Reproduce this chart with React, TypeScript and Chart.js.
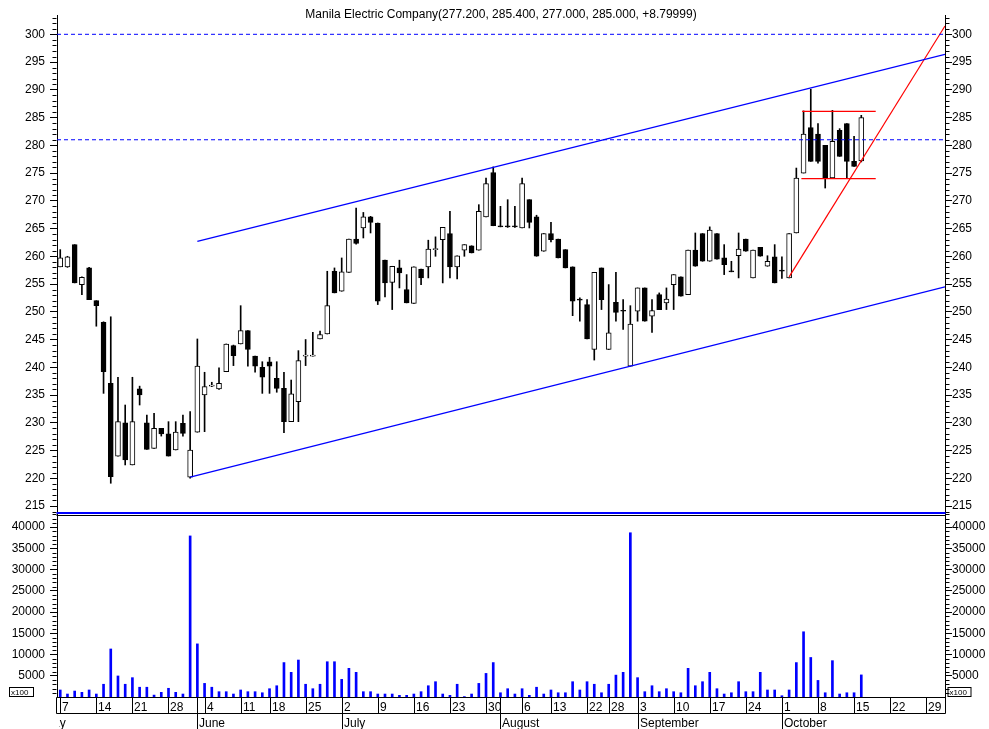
import React, { useEffect, useRef } from 'react';
import { Chart, registerables } from 'chart.js';

Chart.register(...registerables);

const FONT = '"Liberation Sans", Arial, sans-serif';
const TITLE = 'Manila Electric Company(277.200, 285.400, 277.000, 285.000, +8.79999)';

const YEAR = 2012;
const FIRST_MONTH = 4; // May (0-based)
const MONTH_NAMES = ['May', 'June', 'July', 'August', 'September', 'October'];
const TRADING_DAYS = [
  [7, 8, 9, 10, 11, 14, 15, 16, 17, 18, 21, 22, 23, 24, 25, 28, 29, 30, 31],
  [1, 4, 5, 6, 7, 8, 11, 13, 14, 15, 18, 19, 20, 21, 22, 25, 26, 27, 28, 29],
  [2, 3, 4, 5, 6, 9, 10, 11, 12, 13, 16, 17, 18, 19, 20, 23, 24, 25, 26, 27, 30, 31],
  [1, 2, 3, 6, 8, 9, 10, 13, 14, 15, 16, 17, 22, 23, 24, 28, 29, 30, 31],
  [3, 4, 5, 6, 7, 10, 11, 12, 13, 14, 17, 18, 19, 20, 21, 24, 25, 26, 27, 28],
  [1, 2, 3, 4, 5, 8, 9, 10, 11, 12, 15, 16, 17, 18, 19, 22, 23, 24, 25, 26, 29, 30, 31],
];

const OPEN = [258.1,258.1,262.1,254.9,257.9,252.0,248.1,237.1,224.0,230.0,
222.4,236.1,230.0,225.4,229.0,228.0,225.1,229.9,220.2,228.3,
235.0,236.6,236.1,239.2,243.9,244.2,246.6,242.0,240.0,241.0,
238.0,236.2,230.2,233.8,242.0,242.0,245.1,246.0,257.3,253.7,
257.1,263.1,265.1,267.1,266.0,259.3,255.3,257.9,254.0,251.5,
257.7,258.1,261.2,263.0,264.1,258.1,261.1,261.9,261.1,267.1,
275.1,265.5,265.4,265.4,265.1,270.2,267.1,260.9,264.1,263.1,
261.2,258.1,252.3,251.3,243.2,257.9,243.2,251.7,250.2,240.2,
250.1,254.3,249.2,253.1,251.6,254.9,256.3,253.1,261.1,264.1,
259.1,264.1,259.7,257.4,260.1,263.1,256.1,261.6,258.2,259.9,
257.5,256.1,264.2,275.0,283.2,282.0,280.0,274.1,282.7,283.9,
277.1,277.2];
const HIGH = [261.2,260.0,262.1,256.3,258.0,252.0,248.2,249.1,238.2,233.2,
238.2,236.6,231.4,231.7,229.0,230.2,230.2,231.4,232.0,245.1,
239.1,237.3,239.9,244.2,244.0,251.1,246.6,242.0,241.0,241.8,
241.0,239.1,237.7,243.0,245.0,246.3,246.5,257.3,257.9,259.7,
263.1,268.7,267.9,267.2,266.0,259.3,258.2,259.3,256.7,258.1,
257.7,262.9,263.5,265.2,268.1,260.1,262.1,261.9,269.3,274.1,
276.1,269.0,270.2,269.0,274.1,270.2,267.4,264.1,266.1,263.1,
261.2,258.1,252.5,252.2,257.1,257.9,254.9,257.1,252.2,251.1,
254.3,254.3,252.2,253.4,254.3,256.7,256.3,261.1,264.2,264.1,
265.3,264.1,262.1,259.1,264.2,263.1,261.1,261.6,260.1,262.1,
259.9,264.1,275.9,286.2,290.1,283.9,280.0,286.3,283.0,283.9,
281.6,285.4];
const LOW = [258.1,258.0,255.2,253.1,252.2,247.4,235.3,219.1,224.0,222.4,
222.4,233.2,225.2,225.4,227.6,224.0,225.1,227.6,220.0,228.3,
228.4,236.5,236.0,239.2,240.3,244.2,240.2,239.1,235.3,235.3,
235.5,228.2,230.2,230.2,240.3,242.0,245.1,246.0,253.4,253.7,
257.1,262.2,263.3,264.2,251.3,252.7,250.4,254.3,251.6,251.5,
254.9,256.1,260.0,255.2,256.1,255.9,260.0,260.6,261.1,267.1,
265.5,265.3,265.2,265.2,265.1,265.1,260.0,260.9,262.6,259.7,
257.9,249.3,248.3,245.1,241.3,250.4,243.2,248.3,246.8,240.2,
248.3,248.3,246.3,250.4,250.4,250.4,252.8,253.1,258.2,259.1,
259.1,259.5,256.7,257.2,256.1,260.9,256.1,260.0,258.2,255.2,
256.0,256.1,264.2,275.0,277.1,276.8,272.3,274.1,278.0,274.1,
276.2,277.0];
const CLOSE = [259.7,259.9,255.2,256.2,252.2,251.1,239.2,220.3,230.2,223.3,
230.2,235.0,225.2,229.0,228.0,224.0,228.3,228.1,225.1,240.2,
236.5,236.8,237.1,244.2,242.1,246.6,243.2,240.2,238.2,240.2,
236.2,230.2,235.2,241.2,242.2,242.2,245.9,251.1,253.4,257.2,
263.1,262.3,267.1,266.1,251.9,255.2,258.2,257.0,251.6,258.1,
256.1,261.3,261.3,265.2,258.1,260.1,262.1,260.6,268.1,273.1,
265.5,265.3,265.3,265.3,273.1,266.1,260.0,264.1,263.0,259.7,
257.9,251.9,252.1,245.1,257.1,252.2,246.2,249.9,250.1,247.8,
254.3,248.3,250.2,250.4,252.3,256.7,252.8,261.1,258.2,259.1,
264.7,259.5,258.5,257.2,261.3,260.9,261.1,260.0,259.1,255.2,
257.3,264.1,274.1,282.0,277.1,277.1,274.1,280.7,278.0,277.1,
276.2,285.0];
const VOLUME = [1650,700,1400,1100,1650,700,3000,11300,4950,3000,
4550,2300,2300,450,1100,2050,1100,700,37900,12500,
3200,2300,1250,1250,700,1650,1250,1250,1000,1950,
2650,8100,5800,8700,3000,1950,3000,8300,8300,4150,
6750,5800,1250,1250,700,700,700,400,400,700,
1250,2650,3600,700,400,3000,100,700,3200,5550,
8100,1000,1950,700,1950,400,2300,700,1650,1000,
1000,3600,1650,3600,3000,1000,3000,5150,5800,38650,
4550,1250,2650,1250,1950,1250,1000,6750,2650,3600,
5800,1950,700,1000,3600,1250,1250,5800,1650,1650,
300,1650,8100,15350,9300,3900,1000,8550,700,1000,
1000,5200];

const PRICE_TICKS = [215,220,225,230,235,240,245,250,255,260,265,270,275,280,285,290,295,300];
const VOLUME_TICKS = [5000,10000,15000,20000,25000,30000,35000,40000];
const PRICE_MIN = 213.56;
const PRICE_MAX = 303.48;
const VOLUME_MAX = 43060;
const X_MIN = -0.45;
const X_MAX = 122.6;

// trend lines: [index, price]
const UPPER_CHANNEL = [[19, 262.7], [122.6, 296.4]];
const LOWER_CHANNEL = [[18, 220.2], [122.6, 254.5]];
const RED_TREND = [[101, 256.3], [122.6, 301.5]];
const RED_RANGE_TOP = [[102.8, 286.1], [113, 286.1]];
const RED_RANGE_BOTTOM = [[102.7, 274.0], [113, 274.0]];
const DASHED_LEVELS = [300, 281];

const DATES = TRADING_DAYS.flatMap((days, mi) => days.map((d) => new Date(YEAR, FIRST_MONTH + mi, d)));
const IDX = OPEN.map((_, i) => i);

const toPts = (arr: number[][]) => arr.map(([x, y]) => ({ x, y }));

const decorPlugin = {
  id: 'decor',
  afterDraw(chart: any) {
    const { ctx, chartArea: a, scales } = chart;
    const xs = scales.x, yp = scales.y, yv = scales.yv;
    ctx.save();
    const hline = (x1: number, x2: number, y: number) => { ctx.beginPath(); ctx.moveTo(x1, y); ctx.lineTo(x2, y); ctx.stroke(); };
    const vline = (x: number, y1: number, y2: number) => { ctx.beginPath(); ctx.moveTo(x, y1); ctx.lineTo(x, y2); ctx.stroke(); };
    const L = Math.round(a.left) - 0.5, R = Math.round(a.right) + 0.5;
    ctx.strokeStyle = '#000';
    ctx.lineWidth = 1;
    // minor ticks price
    for (let v = Math.ceil(PRICE_MIN); v <= PRICE_MAX; v++) {
      if (PRICE_TICKS.includes(v)) continue;
      const y = Math.round(yp.getPixelForValue(v)) + 0.5;
      hline(L - 4, L, y); hline(R, R + 4, y);
    }
    for (let v = 1000; v <= VOLUME_MAX; v += 1000) {
      if (VOLUME_TICKS.includes(v)) continue;
      const y = Math.round(yv.getPixelForValue(v)) + 0.5;
      hline(L - 4, L, y); hline(R, R + 4, y);
    }
    // panel separator
    const sep = Math.round(yp.bottom);
    ctx.strokeStyle = '#0000ff'; ctx.lineWidth = 2;
    hline(L, R, sep - 1);
    ctx.strokeStyle = '#000'; ctx.lineWidth = 1;
    hline(L, R, sep + 1.5);
    // date axis
    const r0 = Math.round(a.bottom) + 0.5, r1 = r0 + 16, r2 = r0 + 32;
    hline(L, R, r0); hline(L, R, r1);
    vline(L, r0, r1); vline(R, r0, r1);
    ctx.fillStyle = '#000';
    ctx.font = '12px ' + FONT;
    ctx.textBaseline = 'alphabetic';
    ctx.textAlign = 'left';
    for (let i = 0; i < DATES.length; i++) {
      const d = DATES[i];
      const prev = DATES[i - 1];
      const x = Math.round(xs.getPixelForValue(i)) + 0.5;
      const newWeek = !prev || d.getDay() <= prev.getDay() || (d.getTime() - prev.getTime()) >= 7 * 864e5;
      const newMonth = prev && d.getMonth() !== prev.getMonth();
      if (newWeek) {
        vline(x, r0, r1);
        ctx.fillText(String(d.getDate()), x + 1.5, r1 - 3);
      }
      if (newMonth) {
        vline(x, r0, r2);
        ctx.fillText(MONTH_NAMES[d.getMonth() - FIRST_MONTH], x + 1.5, r2 - 3);
      }
    }
    // first month label, clipped at the first day
    ctx.save();
    ctx.beginPath();
    const x0 = xs.getPixelForValue(0);
    ctx.rect(x0 - 1, r1, 40, 16);
    ctx.clip();
    ctx.textAlign = 'right';
    ctx.fillText(MONTH_NAMES[0], x0 + 5.5, r2 - 3);
    ctx.restore();
    // x100 boxes
    ctx.font = '8px ' + FONT;
    ctx.textAlign = 'left';
    const by = Math.round(yv.bottom);
    ctx.strokeRect(9.5, by - 9.5, 24, 9);
    ctx.fillText('x100', 11, by - 2);
    ctx.strokeRect(R + 2.5, by - 9.5, 23, 9);
    ctx.fillText('x100', R + 4, by - 2);
    // title
    ctx.font = '12px ' + FONT;
    ctx.textAlign = 'center';
    ctx.textBaseline = 'middle';
    ctx.fillText(TITLE, (a.left + a.right) / 2, 15);
    ctx.restore();
  },
};

const axisCommon = (pos: 'left' | 'right') => ({
  type: 'linear' as const,
  position: pos,
  afterFit: (s: any) => { s.width = pos === 'left' ? 57 : 44; },
  ticks: {
    color: '#000',
    font: { size: 12, family: FONT },
    padding: pos === 'left' ? 5 : 0,
    autoSkip: false,
    callback: (v: any) => String(v),
  },
  grid: { drawOnChartArea: false, drawTicks: true, tickLength: 7, color: '#000' },
  border: { color: '#000' },
});

const priceAxis = (pos: 'left' | 'right', weight: number) => ({
  ...axisCommon(pos),
  stack: pos,
  stackWeight: 499,
  weight,
  min: PRICE_MIN,
  max: PRICE_MAX,
  afterBuildTicks: (s: any) => { s.ticks = PRICE_TICKS.map((v) => ({ value: v })); },
});

const volumeAxis = (pos: 'left' | 'right', weight: number) => ({
  ...axisCommon(pos),
  stack: pos,
  stackWeight: 183,
  weight,
  min: 0,
  max: VOLUME_MAX,
  afterBuildTicks: (s: any) => { s.ticks = VOLUME_TICKS.map((v) => ({ value: v })); },
});

export default function App() {
  const ref = useRef<HTMLCanvasElement>(null);
  useEffect(() => {
    Chart.defaults.font.family = FONT;
    const lineDs = (data: number[][], color: string, width: number, dash: number[] = []) => ({
      type: 'line' as const,
      data: toPts(data),
      borderColor: color,
      borderWidth: width,
      borderDash: dash,
      pointRadius: 0,
      fill: false,
      yAxisID: 'y',
      order: 0,
    });
    const chart = new Chart(ref.current!, {
      type: 'bar',
      data: {
        datasets: [
          ...DASHED_LEVELS.map((lv) => lineDs([[X_MIN, lv], [X_MAX, lv]], '#0000ff', 1, [4, 3])),
          lineDs(UPPER_CHANNEL, '#0000ff', 1.3),
          lineDs(LOWER_CHANNEL, '#0000ff', 1.3),
          lineDs(RED_TREND, '#ff0000', 1.2),
          lineDs(RED_RANGE_TOP, '#ff0000', 1.2),
          lineDs(RED_RANGE_BOTTOM, '#ff0000', 1.2),
          {
            type: 'bar' as const,
            data: IDX.map((i) => ({ x: i, y: [LOW[i], HIGH[i]] })) as any,
            backgroundColor: '#000',
            barThickness: 1,
            grouped: false,
            yAxisID: 'y',
            order: 3,
          },
          {
            type: 'bar' as const,
            data: IDX.map((i) => ({ x: i, y: [OPEN[i], CLOSE[i]] })) as any,
            backgroundColor: IDX.map((i) => (CLOSE[i] >= OPEN[i] ? '#ffffff' : '#000000')),
            borderColor: '#000',
            borderWidth: 1,
            borderSkipped: false,
            barThickness: 5,
            minBarLength: 1,
            grouped: false,
            yAxisID: 'y',
            order: 2,
          },
          {
            type: 'bar' as const,
            data: IDX.map((i) => ({ x: i, y: VOLUME[i] })) as any,
            backgroundColor: '#0000ff',
            barThickness: 2,
            grouped: false,
            yAxisID: 'yv',
            order: 1,
          },
        ] as any,
      },
      options: {
        responsive: false,
        animation: false,
        layout: { padding: { top: 15, bottom: 32, left: 0, right: 0 } },
        plugins: { legend: { display: false }, tooltip: { enabled: false }, title: { display: false } },
        scales: {
          x: { type: 'linear', min: X_MIN, max: X_MAX, display: false, offset: false, grid: { offset: false } },
          y: priceAxis('left', 1),
          yv: volumeAxis('left', 0),
          y2: priceAxis('right', 0),
          yv2: volumeAxis('right', 1),
        } as any,
      },
      plugins: [decorPlugin],
    });
    return () => chart.destroy();
  }, []);
  return (
    <div style={{ position: 'fixed', left: 0, top: 0, width: 989, height: 729, background: '#fff' }}>
      <canvas ref={ref} width={989} height={729} />
    </div>
  );
}
